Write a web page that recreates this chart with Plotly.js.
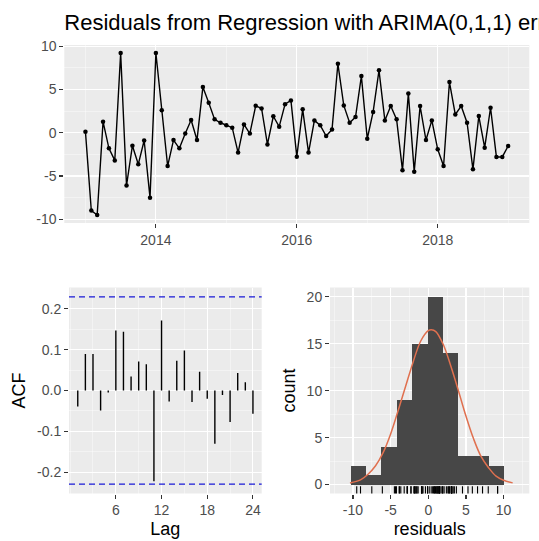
<!DOCTYPE html>
<html>
<head>
<meta charset="utf-8">
<script src="https://cdn.plot.ly/plotly-3.0.1.min.js"></script>
<style>html,body{margin:0;padding:0;background:#fff;}</style>
</head>
<body>
<div id="chart" style="width:539px;height:541px;"></div>
<script>
// ---------- data ----------
const chartTitle = 'Residuals from Regression with ARIMA(0,1,1) errors';
const startYear = 2013;
const frequency = 12;
const residuals = [
  0.12, -9.0, -9.5, 1.27, -1.8, -3.2, 9.2, -6.1, -1.5, -3.65, -0.9, -7.5,
  9.2, 2.6, -3.85, -0.85, -1.8, -0.1, 1.46, -0.85, 5.27, 3.46, 1.54, 1.15,
  0.85, 0.58, -2.3, 0.96, -0.1, 3.1, 2.8, -1.35, 1.9, 0.7, 3.3, 3.73,
  -2.77, 2.7, -2.3, 1.42, 0.85, -0.38, 0.38, 7.96, 3.15, 1.15, 1.8, 6.54,
  -0.7, 2.4, 7.2, 1.42, 3.08, 1.54, -4.35, 4.54, -4.5, 3.08, -0.85, 1.42,
  -1.92, -3.85, 5.85, 2.1, 3.08, 1.15, -4.23, 1.92, -1.73, 2.88, -2.8, -2.8, -1.54
];
const yearTicks = [2014, 2016, 2018];
const yearTickText = ['2014', '2016', '2018'];
const resTicks = [-10, -5, 0, 5, 10];
const resTickText = ['-10', '-5', '0', '5', '10'];

const acfLags = [1,2,3,4,5,6,7,8,9,10,11,12,13,14,15,16,17,18,19,20,21,22,23,24];
const acfValues = [
  -0.039, 0.089, 0.089, -0.049, -0.005, 0.147, 0.144, 0.034, 0.071, 0.064, -0.222, 0.171,
  -0.027, 0.073, 0.098, -0.028, 0.046, -0.020, -0.130, -0.011, -0.077, 0.043, 0.020, -0.057
];
const acfLimit = 0.229;
const lagTicks = [6, 12, 18, 24];
const lagTickText = ['6', '12', '18', '24'];
const acfTicks = [-0.2, -0.1, 0, 0.1, 0.2];
const acfTickText = ['-0.2', '-0.1', '0.0', '0.1', '0.2'];

const binStart = -10.3;
const binWidth = 2.04;
const binCounts = [2, 1, 4, 9, 15, 20, 14, 3, 3, 2];
const countTicks = [0, 5, 10, 15, 20];
const countTickText = ['0', '5', '10', '15', '20'];
const normalX = [-10.4, -9, -8, -7, -6, -5, -4, -3, -2, -1, 0, 0.4, 1, 2, 3, 4, 5, 6, 7, 8, 9, 10, 11.2];
const normalY = [0.18, 0.5, 1.1, 2.0, 3.4, 5.4, 7.9, 10.5, 13.1, 15.3, 16.4, 16.5, 16.3, 14.9, 12.6, 10.0, 7.3, 4.9, 3.0, 1.8, 0.9, 0.46, 0.18];

// ---------- derived ----------
const time = residuals.map((_, i) => startYear + i / frequency);
const binCenters = binCounts.map((_, i) => binStart + binWidth * (i + 0.5));
const acfX = [], acfY = [];
acfLags.forEach((l, i) => { acfX.push(l, l, null); acfY.push(0, acfValues[i], null); });

const W = 539, H = 541;
const px = v => v / W;
const py = v => 1 - v / H;
const FONT = 'Liberation Sans, Arial, Helvetica, sans-serif';

function axis(extra) {
  return Object.assign({
    showgrid: true, gridcolor: '#ffffff', gridwidth: 1.1,
    zeroline: false, showline: false,
    ticks: 'outside', ticklen: 4, tickwidth: 1.1, tickcolor: '#333333',
    tickfont: {family: FONT, size: 14, color: '#4d4d4d'},
    tickmode: 'array',
    fixedrange: true
  }, extra);
}
function minor(tick0, dtick) {
  return {showgrid: true, gridcolor: 'rgba(255,255,255,0.75)', gridwidth: 0.55, ticks: '', tickmode: 'linear', tick0: tick0, dtick: dtick};
}
const titleFont = {family: FONT, size: 18, color: '#000000'};

const traces = [
  {
    x: time, y: residuals, xaxis: 'x', yaxis: 'y',
    type: 'scatter', mode: 'lines+markers',
    line: {color: '#000000', width: 1.4},
    marker: {color: '#000000', size: 4.5},
    hoverinfo: 'skip'
  },
  {
    x: acfX, y: acfY, xaxis: 'x2', yaxis: 'y2',
    type: 'scatter', mode: 'lines',
    line: {color: '#000000', width: 1.4},
    hoverinfo: 'skip'
  },
  {
    x: binCenters, y: binCounts, xaxis: 'x3', yaxis: 'y3',
    type: 'bar', width: binWidth,
    marker: {color: '#474747', line: {width: 0}},
    hoverinfo: 'skip'
  },
  {
    x: normalX, y: normalY, xaxis: 'x3', yaxis: 'y3',
    type: 'scatter', mode: 'lines',
    line: {color: '#e0704f', width: 1.5, shape: 'spline'},
    hoverinfo: 'skip'
  },
  {
    x: residuals, y: residuals.map(() => -0.62), xaxis: 'x3', yaxis: 'y3',
    type: 'scatter', mode: 'markers',
    marker: {symbol: 'line-ns-open', size: 6, color: '#000000', line: {width: 1.1, color: '#000000'}},
    hoverinfo: 'skip'
  }
];

const layout = {
  width: W, height: H,
  margin: {l: 0, r: 0, t: 0, b: 0},
  paper_bgcolor: '#ffffff',
  plot_bgcolor: '#ebebeb',
  showlegend: false,
  bargap: 0,
  font: {family: FONT},
  title: {
    text: chartTitle,
    font: {family: FONT, size: 22, color: '#000000'},
    x: px(64.3), xanchor: 'left', xref: 'paper',
    y: py(22), yanchor: 'middle', yref: 'paper'
  },
  xaxis: axis({domain: [px(64.3), px(529.3)], range: [2012.7, 2019.3], anchor: 'y',
    tickvals: yearTicks, ticktext: yearTickText, minor: minor(2013, 1)}),
  yaxis: axis({domain: [py(223), py(45)], range: [-10.43, 10.13], anchor: 'x',
    tickvals: resTicks, ticktext: resTickText, minor: minor(0, 2.5)}),
  xaxis2: axis({domain: [px(69), px(261.7)], range: [-0.15, 25.15], anchor: 'y2',
    tickvals: lagTicks, ticktext: lagTickText, minor: minor(0, 3),
    title: {text: 'Lag', font: titleFont, standoff: 5}}),
  yaxis2: axis({domain: [py(493.5), py(287.5)], range: [-0.252, 0.252], anchor: 'x2',
    tickvals: acfTicks, ticktext: acfTickText, minor: minor(0, 0.05),
    title: {text: 'ACF', font: titleFont, standoff: 6}}),
  xaxis3: axis({domain: [px(330), px(529.3)], range: [-13.05, 13.41], anchor: 'y3',
    tickvals: resTicks, ticktext: resTickText, minor: minor(0, 2.5),
    title: {text: 'residuals', font: titleFont, standoff: 5}}),
  yaxis3: axis({domain: [py(493.5), py(287.5)], range: [-0.95, 21.0], anchor: 'x3',
    tickvals: countTicks, ticktext: countTickText, minor: minor(0, 2.5),
    title: {text: 'count', font: titleFont, standoff: 6}}),
  shapes: [
    {type: 'line', xref: 'x2 domain', yref: 'y2', x0: 0, x1: 1, y0: 0, y1: 0,
     line: {color: '#000000', width: 1.2}, layer: 'below'},
    {type: 'line', xref: 'x2 domain', yref: 'y2', x0: 0, x1: 1, y0: acfLimit, y1: acfLimit,
     line: {color: '#1a1ad6', width: 1.4, dash: '6px,4px'}},
    {type: 'line', xref: 'x2 domain', yref: 'y2', x0: 0, x1: 1, y0: -acfLimit, y1: -acfLimit,
     line: {color: '#1a1ad6', width: 1.4, dash: '6px,4px'}}
  ]
};

Plotly.newPlot('chart', traces, layout, {displayModeBar: false, staticPlot: true});
</script>
</body>
</html>
